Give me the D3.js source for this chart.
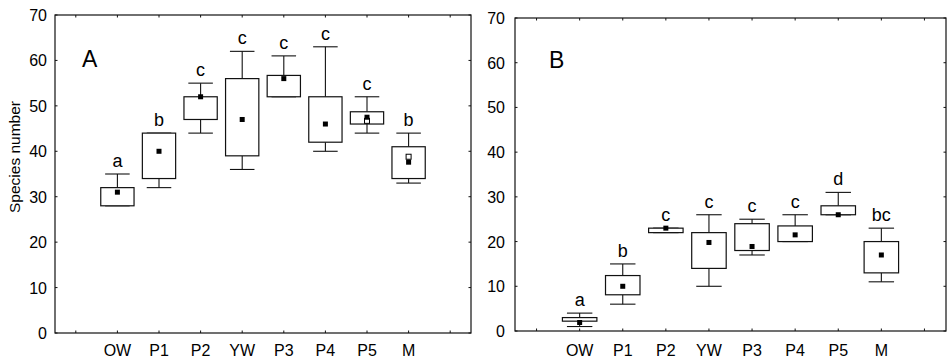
<!DOCTYPE html>
<html><head><meta charset="utf-8">
<script src="https://cdn.jsdelivr.net/npm/d3@7"></script>
<style>body{margin:0;background:#fff}svg{display:block}text{font-family:"Liberation Sans",Arial,sans-serif;fill:#000}</style>
</head><body><svg id="c" width="951" height="362"></svg>
<script>
const categories = ["OW","P1","P2","YW","P3","P4","P5","M"];
const yTicks = [0,10,20,30,40,50,60,70];

// Panel A
const aMax   = [35,44,55,62,61,63,52,44];
const aQ3    = [32,44,52,56,56.7,52,48.7,41];
const aQ1    = [28,34,47,39,52,42,46,34];
const aMin   = [28,32,44,36,52,40,44,33];
const aPoint = [31,40,52,47,56,46,47.5,37.6];
const aOpen  = [null,null,null,null,null,null,46.7,38.8];
const aLetters = ["a","b","c","c","c","c","c","b"];

// Panel B
const bMax   = [4,15,23,26,25,26,31,23];
const bQ3    = [3,12.4,23,22,24,23.5,28,20];
const bQ1    = [2.2,8.1,22,14,18,20,26,13];
const bMin   = [1,6,22,10,17,20,26,11];
const bPoint = [1.9,10,23,19.8,18.9,21.5,26,17];
const bOpen  = [null,null,null,null,null,null,null,null];
const bLetters = ["a","b","c","c","c","c","d","bc"];

const svg = d3.select("#c");

function panel(cfg){
  const {left,right,top,bottom,max,q3,q1,min,pt,open,letters,tag,tagX,tagY,labGap,title} = cfg;
  const x = d3.scaleLinear().domain([0,10]).range([left,right]);
  const y = d3.scaleLinear().domain([0,70]).range([bottom,top]);
  const g = svg.append("g");
  const boxW = (x(1)-x(0))*0.8, capW = (x(1)-x(0))*0.59;
  const xt = d3.range(10).map(i=>i+0.5);

  g.append("rect").attr("x",left).attr("y",top).attr("width",right-left).attr("height",bottom-top)
    .attr("fill","none").attr("stroke","#111").attr("stroke-width",1.2);
  const tk = g.append("g").attr("stroke","#111").attr("stroke-width",1);
  xt.forEach(v=>{
    tk.append("line").attr("x1",x(v)).attr("x2",x(v)).attr("y1",bottom).attr("y2",bottom-2.5);
    tk.append("line").attr("x1",x(v)).attr("x2",x(v)).attr("y1",top).attr("y2",top+2.5);
  });
  yTicks.forEach(v=>{
    tk.append("line").attr("x1",left).attr("x2",left+2.5).attr("y1",y(v)).attr("y2",y(v));
    tk.append("line").attr("x1",right).attr("x2",right-2.5).attr("y1",y(v)).attr("y2",y(v));
  });
  g.selectAll(".yl").data(yTicks).join("text").attr("x",left-labGap).attr("y",v=>y(v)+6)
    .attr("text-anchor","end").attr("font-size",16).text(d=>d);
  g.selectAll(".xl").data(categories).join("text").attr("x",(d,i)=>x(i+1.5)).attr("y",356)
    .attr("text-anchor","middle").attr("font-size",16).text(d=>d);

  const bx = g.selectAll(".b").data(categories).join("g");
  bx.each(function(d,i){
    const s = d3.select(this), cx = x(i+1.5);
    s.append("line").attr("x1",cx).attr("x2",cx).attr("y1",y(max[i])).attr("y2",y(q3[i])).attr("stroke","#111").attr("stroke-width",1.1);
    s.append("line").attr("x1",cx).attr("x2",cx).attr("y1",y(q1[i])).attr("y2",y(min[i])).attr("stroke","#111").attr("stroke-width",1.1);
    s.append("line").attr("x1",cx-capW/2).attr("x2",cx+capW/2).attr("y1",y(max[i])).attr("y2",y(max[i])).attr("stroke","#111").attr("stroke-width",1.1);
    s.append("line").attr("x1",cx-capW/2).attr("x2",cx+capW/2).attr("y1",y(min[i])).attr("y2",y(min[i])).attr("stroke","#111").attr("stroke-width",1.1);
    s.append("rect").attr("x",cx-boxW/2).attr("y",y(q3[i])).attr("width",boxW).attr("height",Math.max(1,y(q1[i])-y(q3[i])))
      .attr("fill","#fff").attr("stroke","#111").attr("stroke-width",1.2);
    if(open[i]!=null) s.append("rect").attr("x",cx-2.5).attr("y",y(open[i])-2.5).attr("width",5).attr("height",5)
      .attr("fill","#fff").attr("stroke","#000").attr("stroke-width",1);
    s.append("rect").attr("x",cx-2.5).attr("y",y(pt[i])-2.5).attr("width",5).attr("height",5).attr("fill","#000");
    s.append("text").attr("x",cx).attr("y",y(max[i])-7).attr("text-anchor","middle").attr("font-size",18).text(letters[i]);
  });
  g.append("text").attr("x",tagX).attr("y",tagY).attr("font-size",23).text(tag);
  if(title) g.append("text").attr("transform","translate(20,157) rotate(-90)").attr("text-anchor","middle")
    .attr("font-size",15.5).text(title);
}

panel({left:55,right:471,top:15,bottom:333,max:aMax,q3:aQ3,q1:aQ1,min:aMin,pt:aPoint,open:aOpen,
  letters:aLetters,tag:"A",tagX:82,tagY:67,labGap:8,title:"Species number"});
panel({left:515,right:946,top:18,bottom:331,max:bMax,q3:bQ3,q1:bQ1,min:bMin,pt:bPoint,open:bOpen,
  letters:bLetters,tag:"B",tagX:549,tagY:68,labGap:10,title:null});
</script></body></html>
